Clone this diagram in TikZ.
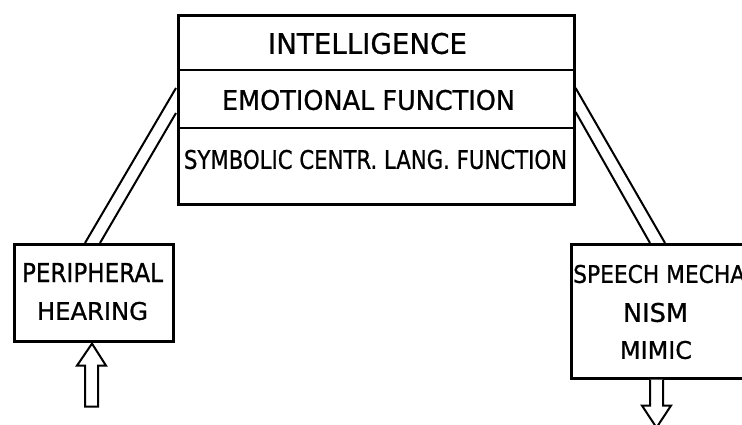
\documentclass[tikz,border=0pt]{standalone}
\usepackage{graphicx}
\usepackage{fontspec}
\setmainfont{DejaVu Sans}[FakeBold=0.9,AutoFakeBold=0.9]
\newfontfamily\techfont{DejaVu Sans}[FakeBold=0.9]
\usetikzlibrary{calc}
\newcommand{\fittext}[3]{\resizebox{#1pt}{#2pt}{\techfont #3}}
\begin{document}
\begin{tikzpicture}[x=1pt,y=-1pt,
  box/.style={draw, line width=2.6pt, inner sep=0pt, anchor=north west},
  rowline/.style={line width=2.4pt},
  lbl/.style={inner sep=0pt, anchor=center},
  conn/.style={line width=2pt},
  arr/.style={draw, line width=2pt, fill=white, line join=miter}]
\useasboundingbox (0,0) rectangle (742,424);
\clip (0,0) rectangle (742,424);
% central box
\node[box, minimum width=396pt, minimum height=189pt] (cbox) at (177,14) {};
\draw[rowline] ($(cbox.north west)+(0,56)$) -- ($(cbox.north east)+(0,56)$);
\draw[rowline] ($(cbox.north west)+(0,114)$) -- ($(cbox.north east)+(0,114)$);
\node[lbl] (tint) at (367.5,43.5) {\fittext{199}{21}{INTELLIGENCE}};
\node[lbl] (temo) at (368.5,100) {\fittext{293}{20}{EMOTIONAL FUNCTION}};
\node[lbl] (tsym) at (375.5,159.5) {\fittext{383}{19}{SYMBOLIC CENTR. LANG. FUNCTION}};
% left box
\node[box, minimum width=159pt, minimum height=97pt] (lbox) at (13,243) {};
\node[lbl] (tper) at (92.5,272.5) {\fittext{141}{19}{PERIPHERAL}};
\node[lbl] (thea) at (92.5,311) {\fittext{111}{18}{HEARING}};
% right box
\node[box, minimum width=200pt, minimum height=134pt] (rbox) at (570,243) {};
\node[lbl, anchor=west] (tspe) at (573,274) {\fittext{172}{18}{SPEECH MECHA}};
\node[lbl] (tnis) at (655.5,312.5) {\fittext{65}{19}{NISM}};
\node[lbl] (tmim) at (656,350) {\fittext{72}{18}{MIMIC}};
% connectors
\coordinate (la1) at ($(cbox.north west)+(-1,74)$);
\coordinate (lb1) at ($(lbox.north west)+(72,0)$);
\coordinate (la2) at ($(cbox.north west)+(-1,99)$);
\coordinate (lb2) at ($(lbox.north west)+(87,0)$);
\coordinate (ra1) at ($(cbox.north east)+(0,74)$);
\coordinate (rb1) at ($(rbox.north west)+(95,0)$);
\coordinate (ra2) at ($(cbox.north east)+(0,98)$);
\coordinate (rb2) at ($(rbox.north west)+(80,0)$);
\draw[conn] (la1) -- (lb1);
\draw[conn] (la2) -- (lb2);
\draw[conn] (ra1) -- (rb1);
\draw[conn] (ra2) -- (rb2);
% up arrow into peripheral hearing
\coordinate (uptip) at ($(lbox.south west)+(79,1)$);
\draw[arr] (uptip) -- ++(14,22) -- ++(-8,0) -- ++(0,41) -- ++(-13,0) -- ++(0,-41) -- ++(-8,0) -- cycle;
% down arrow out of speech mechanism
\coordinate (dnbase) at ($(rbox.south west)+(80,0)$);
\draw[arr] (dnbase) -- ++(0,26) -- ++(-8,0) -- ++(14.5,22) -- ++(14.5,-22) -- ++(-8,0) -- ++(0,-26);
\end{tikzpicture}
\end{document}
